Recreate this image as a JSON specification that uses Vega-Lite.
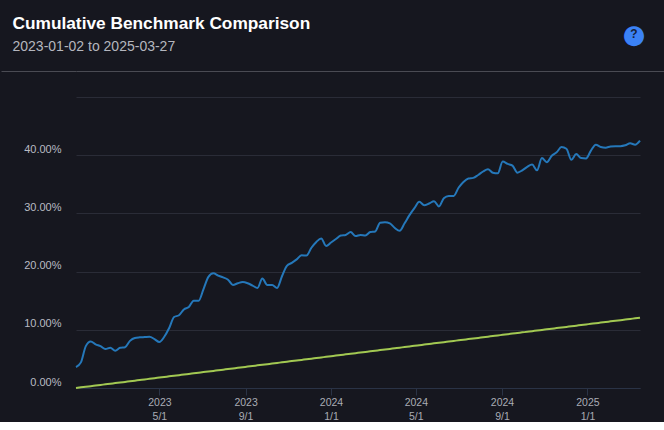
{
  "$schema": "https://vega.github.io/schema/vega-lite/v6.json",
  "background": "#16171f",
  "padding": {"top": 15, "left": 0, "right": 0, "bottom": 0},
  "title": {
    "text": "●",
    "subtitle": "?",
    "anchor": "end",
    "align": "center",
    "dx": -31,
    "offset": -33,
    "font": "DejaVu Sans",
    "fontSize": 26,
    "fontWeight": "normal",
    "color": "#3b82f6",
    "subtitleFont": "Liberation Sans",
    "subtitleFontSize": 12,
    "subtitleFontWeight": "bold",
    "subtitleColor": "#16213a",
    "subtitlePadding": -19
  },
  "concat": [
    {
      "width": 589,
      "height": 0.01,
      "title": {
        "text": "Cumulative Benchmark Comparison",
        "subtitle": "2023-01-02 to 2025-03-27",
        "anchor": "start",
        "dx": 12,
        "font": "Liberation Sans",
        "fontSize": 17.3,
        "fontWeight": "bold",
        "color": "#ffffff",
        "subtitleFont": "Liberation Sans",
        "subtitleFontSize": 14,
        "subtitleColor": "#b4b6be",
        "subtitlePadding": 7,
        "offset": 17
      },
      "data": {"values": []},
      "mark": "point",
      "encoding": {
        "y": {
          "datum": 0,
          "type": "quantitative",
          "scale": {"domain": [0, 1]},
          "axis": {
            "values": [0],
            "labels": false,
            "domain": false,
            "ticks": true,
            "tickSize": 75,
            "tickColor": "#4a4b53",
            "grid": true,
            "gridColor": "#4a4b53",
            "gridOpacity": 1,
            "title": null,
            "minExtent": 75,
            "maxExtent": 75
          }
        }
      }
    },
    {
      "width": 564,
      "height": 291,
      "data": {"values": [
        {"date": "2023-01-02", "portfolio": 0.036, "benchmark": 0.0},
        {"date": "2023-01-09", "portfolio": 0.044, "benchmark": 0.0011},
        {"date": "2023-01-16", "portfolio": 0.072, "benchmark": 0.0021},
        {"date": "2023-01-23", "portfolio": 0.080, "benchmark": 0.0032},
        {"date": "2023-01-30", "portfolio": 0.075, "benchmark": 0.0042},
        {"date": "2023-02-06", "portfolio": 0.072, "benchmark": 0.0053},
        {"date": "2023-02-13", "portfolio": 0.067, "benchmark": 0.0063},
        {"date": "2023-02-20", "portfolio": 0.069, "benchmark": 0.0074},
        {"date": "2023-02-27", "portfolio": 0.064, "benchmark": 0.0084},
        {"date": "2023-03-06", "portfolio": 0.069, "benchmark": 0.0095},
        {"date": "2023-03-13", "portfolio": 0.070, "benchmark": 0.0105},
        {"date": "2023-03-20", "portfolio": 0.081, "benchmark": 0.0116},
        {"date": "2023-03-27", "portfolio": 0.086, "benchmark": 0.0126},
        {"date": "2023-04-03", "portfolio": 0.087, "benchmark": 0.0137},
        {"date": "2023-04-10", "portfolio": 0.0875, "benchmark": 0.0147},
        {"date": "2023-04-17", "portfolio": 0.088, "benchmark": 0.0158},
        {"date": "2023-04-24", "portfolio": 0.084, "benchmark": 0.0168},
        {"date": "2023-05-01", "portfolio": 0.079, "benchmark": 0.0179},
        {"date": "2023-05-08", "portfolio": 0.088, "benchmark": 0.0189},
        {"date": "2023-05-15", "portfolio": 0.103, "benchmark": 0.0200},
        {"date": "2023-05-22", "portfolio": 0.122, "benchmark": 0.0210},
        {"date": "2023-05-29", "portfolio": 0.125, "benchmark": 0.0221},
        {"date": "2023-06-05", "portfolio": 0.135, "benchmark": 0.0231},
        {"date": "2023-06-12", "portfolio": 0.139, "benchmark": 0.0242},
        {"date": "2023-06-19", "portfolio": 0.150, "benchmark": 0.0252},
        {"date": "2023-06-26", "portfolio": 0.150, "benchmark": 0.0263},
        {"date": "2023-07-03", "portfolio": 0.170, "benchmark": 0.0273},
        {"date": "2023-07-10", "portfolio": 0.191, "benchmark": 0.0284},
        {"date": "2023-07-17", "portfolio": 0.197, "benchmark": 0.0294},
        {"date": "2023-07-24", "portfolio": 0.193, "benchmark": 0.0305},
        {"date": "2023-07-31", "portfolio": 0.190, "benchmark": 0.0315},
        {"date": "2023-08-07", "portfolio": 0.186, "benchmark": 0.0326},
        {"date": "2023-08-14", "portfolio": 0.177, "benchmark": 0.0336},
        {"date": "2023-08-21", "portfolio": 0.180, "benchmark": 0.0347},
        {"date": "2023-08-28", "portfolio": 0.182, "benchmark": 0.0357},
        {"date": "2023-09-04", "portfolio": 0.180, "benchmark": 0.0368},
        {"date": "2023-09-11", "portfolio": 0.176, "benchmark": 0.0378},
        {"date": "2023-09-18", "portfolio": 0.172, "benchmark": 0.0389},
        {"date": "2023-09-25", "portfolio": 0.188, "benchmark": 0.0399},
        {"date": "2023-10-02", "portfolio": 0.177, "benchmark": 0.0410},
        {"date": "2023-10-09", "portfolio": 0.177, "benchmark": 0.0420},
        {"date": "2023-10-16", "portfolio": 0.172, "benchmark": 0.0431},
        {"date": "2023-10-23", "portfolio": 0.192, "benchmark": 0.0441},
        {"date": "2023-10-30", "portfolio": 0.210, "benchmark": 0.0452},
        {"date": "2023-11-06", "portfolio": 0.215, "benchmark": 0.0462},
        {"date": "2023-11-13", "portfolio": 0.221, "benchmark": 0.0473},
        {"date": "2023-11-20", "portfolio": 0.228, "benchmark": 0.0483},
        {"date": "2023-11-27", "portfolio": 0.2275, "benchmark": 0.0494},
        {"date": "2023-12-04", "portfolio": 0.241, "benchmark": 0.0504},
        {"date": "2023-12-11", "portfolio": 0.251, "benchmark": 0.0515},
        {"date": "2023-12-18", "portfolio": 0.257, "benchmark": 0.0525},
        {"date": "2023-12-25", "portfolio": 0.244, "benchmark": 0.0536},
        {"date": "2024-01-01", "portfolio": 0.250, "benchmark": 0.0546},
        {"date": "2024-01-08", "portfolio": 0.256, "benchmark": 0.0557},
        {"date": "2024-01-15", "portfolio": 0.262, "benchmark": 0.0567},
        {"date": "2024-01-22", "portfolio": 0.263, "benchmark": 0.0578},
        {"date": "2024-01-29", "portfolio": 0.268, "benchmark": 0.0588},
        {"date": "2024-02-05", "portfolio": 0.261, "benchmark": 0.0599},
        {"date": "2024-02-12", "portfolio": 0.263, "benchmark": 0.0609},
        {"date": "2024-02-19", "portfolio": 0.262, "benchmark": 0.0620},
        {"date": "2024-02-26", "portfolio": 0.268, "benchmark": 0.0630},
        {"date": "2024-03-04", "portfolio": 0.269, "benchmark": 0.0641},
        {"date": "2024-03-11", "portfolio": 0.284, "benchmark": 0.0651},
        {"date": "2024-03-18", "portfolio": 0.285, "benchmark": 0.0662},
        {"date": "2024-03-25", "portfolio": 0.283, "benchmark": 0.0672},
        {"date": "2024-04-01", "portfolio": 0.275, "benchmark": 0.0683},
        {"date": "2024-04-08", "portfolio": 0.270, "benchmark": 0.0693},
        {"date": "2024-04-15", "portfolio": 0.283, "benchmark": 0.0704},
        {"date": "2024-04-22", "portfolio": 0.297, "benchmark": 0.0714},
        {"date": "2024-04-29", "portfolio": 0.309, "benchmark": 0.0725},
        {"date": "2024-05-06", "portfolio": 0.320, "benchmark": 0.0735},
        {"date": "2024-05-13", "portfolio": 0.314, "benchmark": 0.0746},
        {"date": "2024-05-20", "portfolio": 0.317, "benchmark": 0.0756},
        {"date": "2024-05-27", "portfolio": 0.321, "benchmark": 0.0767},
        {"date": "2024-06-03", "portfolio": 0.312, "benchmark": 0.0777},
        {"date": "2024-06-10", "portfolio": 0.326, "benchmark": 0.0788},
        {"date": "2024-06-17", "portfolio": 0.330, "benchmark": 0.0798},
        {"date": "2024-06-24", "portfolio": 0.330, "benchmark": 0.0809},
        {"date": "2024-07-01", "portfolio": 0.344, "benchmark": 0.0819},
        {"date": "2024-07-08", "portfolio": 0.354, "benchmark": 0.0830},
        {"date": "2024-07-15", "portfolio": 0.360, "benchmark": 0.0840},
        {"date": "2024-07-22", "portfolio": 0.361, "benchmark": 0.0851},
        {"date": "2024-07-29", "portfolio": 0.366, "benchmark": 0.0861},
        {"date": "2024-08-05", "portfolio": 0.372, "benchmark": 0.0872},
        {"date": "2024-08-12", "portfolio": 0.376, "benchmark": 0.0882},
        {"date": "2024-08-19", "portfolio": 0.370, "benchmark": 0.0893},
        {"date": "2024-08-26", "portfolio": 0.369, "benchmark": 0.0903},
        {"date": "2024-09-02", "portfolio": 0.389, "benchmark": 0.0914},
        {"date": "2024-09-09", "portfolio": 0.385, "benchmark": 0.0924},
        {"date": "2024-09-16", "portfolio": 0.382, "benchmark": 0.0935},
        {"date": "2024-09-23", "portfolio": 0.370, "benchmark": 0.0945},
        {"date": "2024-09-30", "portfolio": 0.374, "benchmark": 0.0956},
        {"date": "2024-10-07", "portfolio": 0.380, "benchmark": 0.0966},
        {"date": "2024-10-14", "portfolio": 0.384, "benchmark": 0.0977},
        {"date": "2024-10-21", "portfolio": 0.374, "benchmark": 0.0987},
        {"date": "2024-10-28", "portfolio": 0.395, "benchmark": 0.0998},
        {"date": "2024-11-04", "portfolio": 0.388, "benchmark": 0.1008},
        {"date": "2024-11-11", "portfolio": 0.399, "benchmark": 0.1019},
        {"date": "2024-11-18", "portfolio": 0.405, "benchmark": 0.1029},
        {"date": "2024-11-25", "portfolio": 0.414, "benchmark": 0.1040},
        {"date": "2024-12-02", "portfolio": 0.411, "benchmark": 0.1050},
        {"date": "2024-12-09", "portfolio": 0.392, "benchmark": 0.1061},
        {"date": "2024-12-16", "portfolio": 0.402, "benchmark": 0.1071},
        {"date": "2024-12-23", "portfolio": 0.395, "benchmark": 0.1082},
        {"date": "2024-12-30", "portfolio": 0.3945, "benchmark": 0.1092},
        {"date": "2025-01-06", "portfolio": 0.408, "benchmark": 0.1103},
        {"date": "2025-01-13", "portfolio": 0.418, "benchmark": 0.1113},
        {"date": "2025-01-20", "portfolio": 0.414, "benchmark": 0.1124},
        {"date": "2025-01-27", "portfolio": 0.413, "benchmark": 0.1134},
        {"date": "2025-02-03", "portfolio": 0.415, "benchmark": 0.1145},
        {"date": "2025-02-10", "portfolio": 0.4155, "benchmark": 0.1155},
        {"date": "2025-02-17", "portfolio": 0.4155, "benchmark": 0.1166},
        {"date": "2025-02-24", "portfolio": 0.417, "benchmark": 0.1176},
        {"date": "2025-03-03", "portfolio": 0.4205, "benchmark": 0.1187},
        {"date": "2025-03-10", "portfolio": 0.418, "benchmark": 0.1197},
        {"date": "2025-03-17", "portfolio": 0.425, "benchmark": 0.1208}
      ]},
      "transform": [{"fold": ["portfolio", "benchmark"], "as": ["series", "value"]}],
      "mark": {"type": "line", "interpolate": "monotone", "strokeWidth": 2},
      "encoding": {
        "x": {
          "field": "date",
          "type": "temporal",
          "scale": {"type": "utc", "nice": false},
          "axis": {
            "values": [
              {"year": 2023, "month": 5, "date": 1, "utc": true},
              {"year": 2023, "month": 9, "date": 1, "utc": true},
              {"year": 2024, "month": 1, "date": 1, "utc": true},
              {"year": 2024, "month": 5, "date": 1, "utc": true},
              {"year": 2024, "month": 9, "date": 1, "utc": true},
              {"year": 2025, "month": 1, "date": 1, "utc": true}
            ],
            "labelExpr": "[utcFormat(datum.value, '%Y'), utcFormat(datum.value, '%-m/%-d')]",
            "title": null,
            "grid": false,
            "domainColor": "#2a3346",
            "tickColor": "#2a3346",
            "tickSize": 7,
            "labelPadding": 2,
            "labelFont": "Liberation Sans",
            "labelFontSize": 10.5,
            "labelLineHeight": 14,
            "labelColor": "#a9acb5"
          }
        },
        "y": {
          "field": "value",
          "type": "quantitative",
          "scale": {"domain": [0, 0.5], "nice": false},
          "axis": {
            "values": [0, 0.1, 0.2, 0.3, 0.4, 0.5],
            "labelExpr": "datum.value >= 0.5 ? '' : format(datum.value, '.2%')",
            "title": null,
            "domain": false,
            "ticks": false,
            "grid": true,
            "gridColor": "#2a2c37",
            "labelFont": "Liberation Sans",
            "labelFontSize": 11,
            "labelColor": "#b9bbc3",
            "labelPadding": 15,
            "labelOffset": -6,
            "minExtent": 75,
            "maxExtent": 75
          }
        },
        "color": {
          "field": "series",
          "type": "nominal",
          "scale": {"domain": ["portfolio", "benchmark"], "range": ["#2578ba", "#a2c852"]},
          "legend": null
        }
      }
    }
  ],
  "columns": 1,
  "align": "none",
  "spacing": 25,
  "config": {"view": {"stroke": null}}
}
